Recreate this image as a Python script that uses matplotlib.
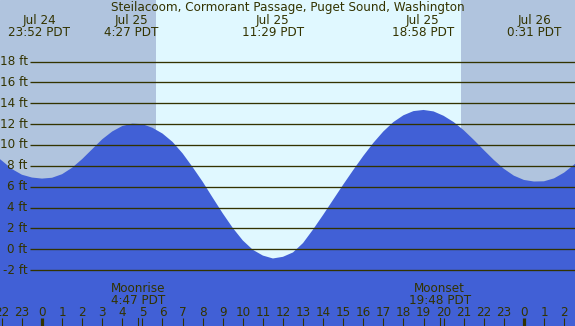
import matplotlib
matplotlib.use("Agg")
import matplotlib.pyplot as plt

# ---- data -------------------------------------------------------------
title = "Steilacoom, Cormorant Passage, Puget Sound, Washington"

# tide height (ft), hours relative to Jul 25 00:00 PDT
tide_hours = [-2.1, -2.0, -1.5, -1.0, -0.5, 0.0, 0.5, 1.0, 1.5, 2.0, 2.5, 3.0, 3.5,
              4.0, 4.5, 5.0, 5.5, 6.0, 6.5, 7.0, 7.5, 8.0, 8.5, 9.0, 9.5, 10.0,
              10.5, 11.0, 11.5, 12.0, 12.5, 13.0, 13.5, 14.0, 14.5, 15.0, 15.5,
              16.0, 16.5, 17.0, 17.5, 18.0, 18.5, 19.0, 19.5, 20.0, 20.5, 21.0,
              21.5, 22.0, 22.5, 23.0, 23.5, 24.0, 24.5, 25.0, 25.5, 26.0, 26.5, 26.6]
tide_ft = [8.65, 8.5, 7.7, 7.15, 6.88, 6.78, 6.86, 7.2, 7.82, 8.65, 9.6, 10.55, 11.3,
           11.82, 12.05, 12.0, 11.65, 11.1, 10.3, 9.2, 7.88, 6.48, 4.95, 3.45, 2.05, 0.85,
           -0.05, -0.6, -0.88, -0.72, -0.3, 0.6, 1.9, 3.3, 4.75, 6.2, 7.6,
           8.95, 10.2, 11.3, 12.2, 12.85, 13.25, 13.36, 13.22, 12.8, 12.2, 11.42,
           10.5, 9.52, 8.57, 7.72, 7.06, 6.65, 6.5, 6.52, 6.8, 7.35, 8.12, 8.3]

# high / low tide labels
extreme_dates = ["Jul 24", "Jul 25", "Jul 25", "Jul 25", "Jul 26"]
extreme_times = ["23:52", "4:27", "11:29", "18:58", "0:31"]
day_offset = {"Jul 24": -24, "Jul 25": 0, "Jul 26": 24}

# sun and moon events (hours relative to Jul 25 00:00)
sunrise_h = 5.68
sunset_h = 20.87
moon_labels = ["Moonrise", "Moonset"]
moon_times = ["4:47", "19:48"]

ft_levels = [-2, 0, 2, 4, 6, 8, 10, 12, 14, 16, 18]
hour_ticks = list(range(-2, 27))

# ---- style ------------------------------------------------------------
night_col = "#b0c4de"
day_col = "#e0f8ff"
water_col = "#4160d6"
ink = "#333300"
fs = 8.64

W, H = 575, 326
px_per_hr = 20.08
x0_px = 42.0          # pixel of hour 0
px_per_ft = 10.43
y0_px = 249.3         # pixel row of 0 ft


def hx(px):
    return (px - x0_px) / px_per_hr


def fy(py):
    return (y0_px - py) / px_per_ft


def to_h(t, off=0):
    hh, mm = t.split(":")
    return off + int(hh) + int(mm) / 60.0


fig = plt.figure(figsize=(W / 100, H / 100), dpi=100)
ax = fig.add_axes([0, 0, 1, 1])
ax.set_xlim(hx(0), hx(W))
ax.set_ylim(fy(H), fy(0))
ax.axis("off")
ax.add_patch(plt.Rectangle((hx(0), fy(H)), hx(W) - hx(0), fy(0) - fy(H),
                           color=night_col, zorder=0))
ax.axvspan(sunrise_h, sunset_h, color=day_col, zorder=1, lw=0)
ax.fill_between(tide_hours, tide_ft, fy(H + 5), color=water_col, zorder=2, lw=0)

for lv in ft_levels:
    ax.plot([hx(29.5), hx(W + 2)], [lv, lv], color=ink, lw=0.95, zorder=3,
            solid_capstyle="butt")
    ax.text(hx(27.5), lv, f"{lv} ft", ha="right", va="center", fontsize=fs,
            color=ink, zorder=4)

# title and extremes
ax.text(0.5, 1 - 11.3 / H, title, transform=ax.transAxes, ha="center",
        va="baseline", fontsize=fs, color=ink, zorder=5)
for d, t in zip(extreme_dates, extreme_times):
    h = to_h(t, day_offset[d])
    ax.text(h, fy(24.3), d, ha="center", va="baseline", fontsize=fs, color=ink, zorder=5)
    ax.text(h, fy(36.3), f"{t} PDT", ha="center", va="baseline", fontsize=fs,
            color=ink, zorder=5)

# moon events
for lab, t in zip(moon_labels, moon_times):
    h = to_h(t)
    ax.text(h, fy(291.7), lab, ha="center", va="baseline", fontsize=fs, color=ink, zorder=5)
    ax.text(h, fy(303.7), f"{t} PDT", ha="center", va="baseline", fontsize=fs,
            color=ink, zorder=5)
    ax.plot([h, h], [fy(318), fy(H + 2)], color=ink, lw=0.8, zorder=5)

# hour ticks
for h in hour_ticks:
    lw = 2.3 if h % 24 == 0 else 0.8
    ax.plot([h, h], [fy(318), fy(H + 2)], color=ink, lw=lw, zorder=5,
            solid_capstyle="butt")
    ax.text(h, fy(316.3), str(h % 24), ha="center", va="baseline", fontsize=fs,
            color=ink, zorder=5)

fig.savefig("out.png", dpi=100)
